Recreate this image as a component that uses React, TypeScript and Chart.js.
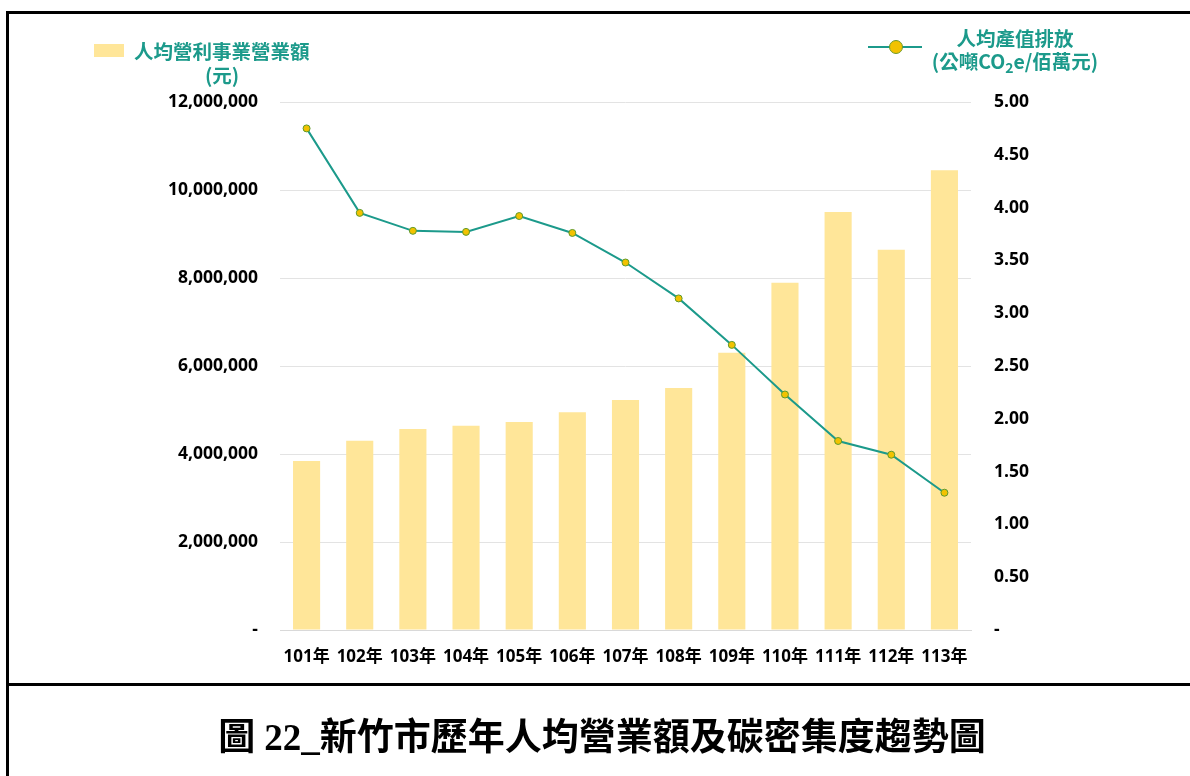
import React, { useEffect, useRef } from "react";
import { Chart, registerables } from "chart.js";

Chart.register(...registerables);

const categories = ["101年", "102年", "103年", "104年", "105年", "106年", "107年", "108年", "109年", "110年", "111年", "112年", "113年"];
const revenuePerCapita = [3840000, 4300000, 4570000, 4640000, 4730000, 4950000, 5230000, 5500000, 6300000, 7890000, 9500000, 8640000, 10450000];
const emissionPerOutput = [4.75, 3.95, 3.78, 3.77, 3.92, 3.76, 3.48, 3.14, 2.70, 2.23, 1.79, 1.66, 1.30];
const barLabel = "人均營利事業營業額";
const barUnit = "(元)";
const lineLabel = "人均產值排放";
const titleText = "圖 22_新竹市歷年人均營業額及碳密集度趨勢圖";

const TEAL = "#1C9A8B";
const BAR = "#FFE699";
const AXIS_FONT = "'Open Sans', 'Noto Sans CJK TC', sans-serif";

export default function App() {
  const ref = useRef<HTMLCanvasElement | null>(null);
  useEffect(() => {
    if (!ref.current) return;
    const chart = new Chart(ref.current, {
      data: {
        labels: categories,
        datasets: [
          {
            type: "line",
            label: lineLabel,
            data: emissionPerOutput,
            yAxisID: "y1",
            borderColor: TEAL,
            borderWidth: 2,
            pointRadius: 3.5,
            pointBackgroundColor: "#F2C200",
            pointBorderColor: "#5E9A2E",
            pointBorderWidth: 1,
            tension: 0,
            order: 0,
          },
          {
            type: "bar",
            label: barLabel,
            data: revenuePerCapita,
            yAxisID: "y",
            backgroundColor: BAR,
            categoryPercentage: 1,
            barPercentage: 0.51,
            order: 1,
          },
        ],
      } as any,
      options: {
        animation: false,
        responsive: false,
        maintainAspectRatio: false,
        layout: { padding: { top: 102, left: 0, right: 0, bottom: 0 } },
        plugins: { legend: { display: false }, tooltip: { enabled: false } },
        scales: {
          x: {
            grid: { display: false, drawTicks: false },
            border: { display: true, color: "#d9d9d9", width: 1 },
            ticks: {
              color: "#000",
              font: { family: AXIS_FONT, size: 17, weight: "bold" },
              padding: 17,
              maxRotation: 0,
              autoSkip: false,
            },
            afterFit: (s: any) => { s.height = 50; },
          },
          y: {
            position: "left",
            min: 0,
            max: 12000000,
            ticks: {
              stepSize: 2000000,
              color: "#000",
              padding: 22,
              font: { family: AXIS_FONT, size: 17.5, weight: "bold" },
              callback: (v: any) => (v === 0 ? "-" : Number(v).toLocaleString("en-US")),
            },
            grid: { color: "#e3e3e3", drawTicks: false },
            border: { display: false },
            afterFit: (s: any) => { s.width = 280; },
          },
          y1: {
            position: "right",
            min: 0,
            max: 5,
            ticks: {
              stepSize: 0.5,
              color: "#000",
              padding: 23,
              font: { family: AXIS_FONT, size: 17.5, weight: "bold" },
              callback: (v: any) => (v === 0 ? "-" : Number(v).toFixed(2)),
            },
            grid: { display: false, drawTicks: false },
            border: { display: false },
            afterFit: (s: any) => { s.width = 219; },
          },
        },
      } as any,
    });
    return () => chart.destroy();
  }, []);

  const legendFont: React.CSSProperties = {
    position: "absolute",
    color: TEAL,
    fontFamily: "'Noto Sans CJK TC', sans-serif",
    fontWeight: 700,
    fontSize: 19.5,
    lineHeight: "23px",
    whiteSpace: "nowrap",
  };

  return (
    <div style={{ position: "fixed", left: 0, top: 0, width: 1190, height: 776, background: "#fff", overflow: "hidden" }}>
      <canvas ref={ref} width={1190} height={680} style={{ position: "absolute", left: 0, top: 0, width: 1190, height: 680 }} />
      {/* frame */}
      <div style={{ position: "absolute", left: 6, top: 11, width: 1184, height: 3, background: "#000" }} />
      <div style={{ position: "absolute", left: 6, top: 11, width: 3, height: 765, background: "#000" }} />
      <div style={{ position: "absolute", left: 6, top: 683, width: 1184, height: 3, background: "#000" }} />
      {/* left legend */}
      <div style={{ position: "absolute", left: 94, top: 44, width: 30, height: 13, background: BAR }} />
      <div style={{ ...legendFont, left: 134, top: 39 }}>{barLabel}</div>
      <div style={{ ...legendFont, left: 122, width: 200, textAlign: "center", top: 63 }}>{barUnit}</div>
      {/* right legend */}
      <div style={{ position: "absolute", left: 868, top: 46, width: 54, height: 2, background: TEAL }} />
      <div style={{ position: "absolute", left: 889, top: 40, width: 12, height: 12, borderRadius: "50%", background: "#F2C200", border: "1px solid #6E9A2A" }} />
      <div style={{ ...legendFont, left: 915, width: 200, textAlign: "center", top: 26 }}>{lineLabel}</div>
      <div style={{ ...legendFont, left: 915, width: 200, textAlign: "center", top: 49 }}>
        (公噸CO<sub style={{ fontSize: 14, verticalAlign: "-4px", lineHeight: 0 }}>2</sub>e/佰萬元)
      </div>
      {/* title */}
      <div style={{ position: "absolute", left: 7, width: 1190, top: 715, textAlign: "center", fontFamily: "'Liberation Serif', 'Noto Sans CJK TC', serif", fontWeight: 700, fontSize: 37, lineHeight: "46px", color: "#000" }}>
        {titleText}
      </div>
    </div>
  );
}
